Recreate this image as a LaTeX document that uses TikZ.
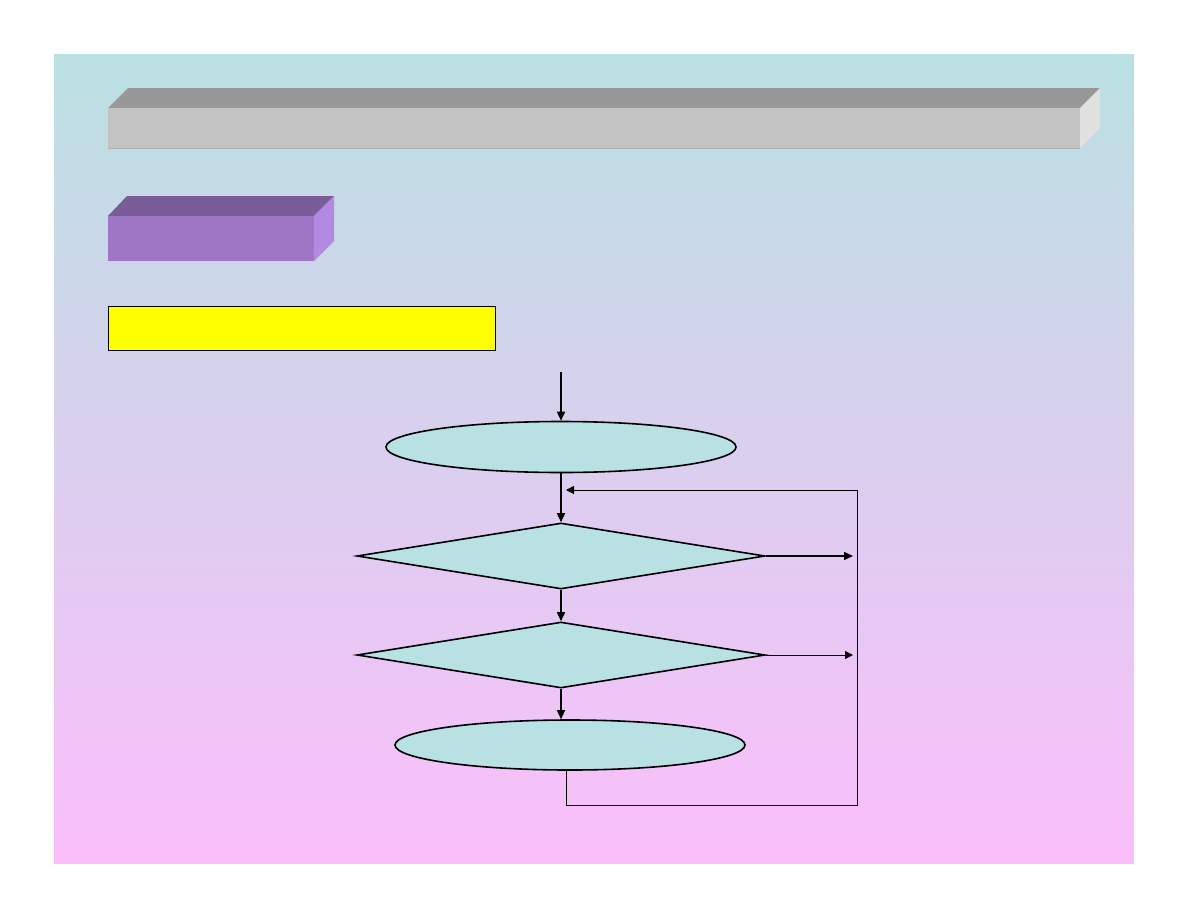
\documentclass[tikz,border=0pt]{standalone}
\usetikzlibrary{shapes.geometric,arrows.meta}
\definecolor{bgtop}{RGB}{186,224,226}
\definecolor{bgbot}{RGB}{251,190,251}
\definecolor{bartop}{RGB}{152,152,152}
\definecolor{barfront}{RGB}{195,195,195}
\definecolor{barside}{RGB}{224,224,224}
\definecolor{baredge}{RGB}{178,178,178}
\definecolor{purtop}{RGB}{122,92,152}
\definecolor{purfront}{RGB}{158,118,196}
\definecolor{purside}{RGB}{178,138,226}
\definecolor{shapefill}{RGB}{185,225,228}
\definecolor{yelfill}{RGB}{255,255,0}
\begin{document}
\begin{tikzpicture}[x=1pt,y=-1pt,
  ell/.style={ellipse,draw=black,fill=shapefill,line width=1.6pt,inner sep=0pt,minimum width=350pt,minimum height=50pt},
  dia/.style={diamond,draw=black,fill=shapefill,line width=1.6pt,inner sep=0pt,minimum width=408pt,minimum height=66pt},
  arr/.style={line width=1.6pt,-{Triangle[length=9pt,width=8pt]}},
  thinarr/.style={line width=1pt,-{Triangle[length=8pt,width=8pt]}},
  thinline/.style={line width=1pt}]
\useasboundingbox (0,0) rectangle (1188,918);
\fill[white] (0,0) rectangle (1188,918);
\shade[top color=bgtop,bottom color=bgbot] (54,54) rectangle (1134,863);
% top grey bar
\fill[bartop] (108,108) -- (128,88) -- (1100,88) -- (1080,108) -- cycle;
\fill[barfront] (108,108) rectangle (1080,148);
\fill[barside] (1080,108) -- (1100,88) -- (1100,128) -- (1080,148) -- cycle;
\draw[baredge,line width=0.8pt] (108,148) -- (1080,148);
% purple box
\fill[purtop] (108,216) -- (127,196) -- (334,196) -- (314,216) -- cycle;
\fill[purfront] (108,216) rectangle (314,261);
\fill[purside] (314,216) -- (334,196) -- (334,241) -- (314,261) -- cycle;
% yellow box
\node[draw=black,fill=yelfill,line width=1pt,inner sep=0pt,minimum width=387pt,minimum height=44pt,anchor=north west] (yel) at (108,306) {};
% flowchart
\node[ell,minimum height=51pt] (e1) at (561,447) {};
\node[dia] (d1) at (561,556) {};
\node[dia] (d2) at (561,655) {};
\node[ell] (e2) at (570,745) {};
\coordinate (start) at (561,372);
\coordinate (lb) at (857,805);
\coordinate (lt) at (857,490);
\coordinate (jn) at (566,490);
\coordinate (r1) at (853,556);
\coordinate (r2) at (853,655);
\coordinate (eb) at (566,770);
\draw[arr] (start) -- (e1.north);
\draw[arr] (e1.south) -- (d1.north);
\draw[arr] (d1.south) -- (d2.north);
\draw[arr] (d2.south) -- (d2.south |- e2.north);
\draw[thinline] (eb) |- (lb) -- (lt);
\draw[thinarr] (lt) -- (jn);
\draw[arr] (d1.east) -- (r1);
\draw[thinarr] (d2.east) -- (r2);
\end{tikzpicture}
\end{document}
